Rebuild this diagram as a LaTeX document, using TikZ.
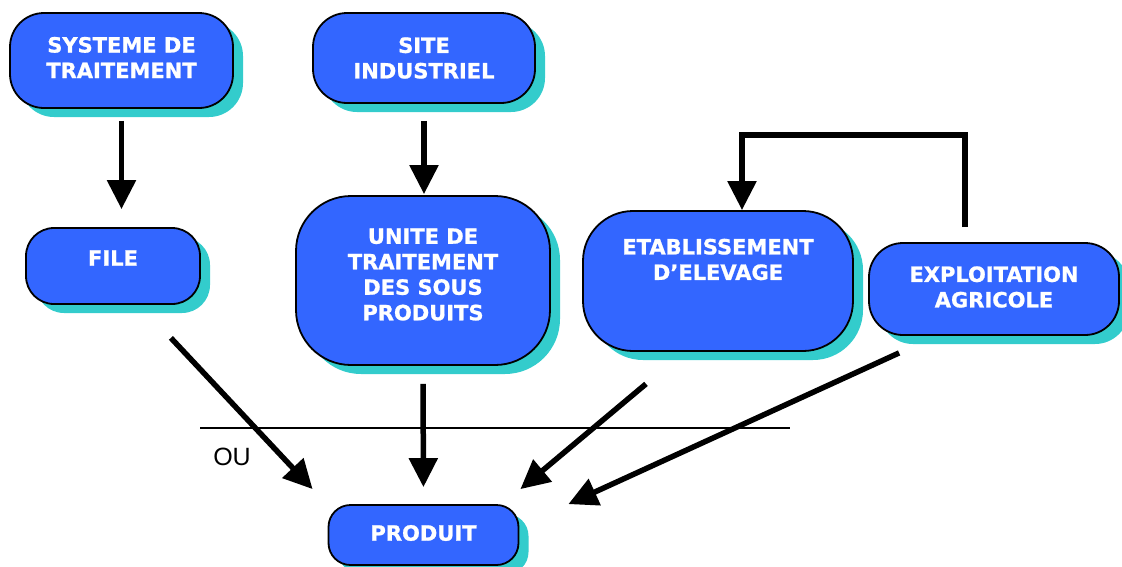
\documentclass[tikz,border=0pt]{standalone}
\usepackage{fontspec}
\setmainfont{DejaVu Sans}[BoldFeatures={FakeBold=1}]
\newfontfamily\arialfont{Liberation Sans}
\usetikzlibrary{arrows.meta,shadows}

\definecolor{bleu}{RGB}{51,102,255}
\definecolor{turquoise}{RGB}{51,204,204}

\begin{document}
\begin{tikzpicture}[x=1pt,y=-1pt,
    bloc/.style={draw=black,line width=1.8pt,fill=bleu,
      drop shadow={fill=turquoise,opacity=1,shadow xshift=10pt,shadow yshift=-9pt}},
    txt/.style={text=white,align=center,font=\bfseries\fontsize{21}{25.5}\selectfont},
    arr/.style={line width=5.5pt,-{Triangle[width=28pt,length=29pt]}}]

  \useasboundingbox (0,0) rectangle (1122,566);

  % les boites
  \begin{scope}[every node/.style={bloc}]
    \node[minimum width=223pt,minimum height=95pt,rounded corners=34pt]  (sys)     at (121.5,60.5) {};
    \node[minimum width=222pt,minimum height=90pt,rounded corners=34pt]  (site)    at (424,58)     {};
    \node[minimum width=174pt,minimum height=76pt,rounded corners=28pt]  (file)    at (113,266)    {};
    \node[minimum width=254pt,minimum height=169pt,rounded corners=55pt] (unite)   at (423,280.5)  {};
    \node[minimum width=270pt,minimum height=140pt,rounded corners=50pt] (etab)    at (718,281)    {};
    \node[minimum width=250pt,minimum height=92pt,rounded corners=34pt]  (expl)    at (994,289)    {};
    \node[minimum width=190pt,minimum height=60pt,rounded corners=22pt]  (produit) at (423.5,535)  {};
  \end{scope}

  % les textes
  \begin{scope}[every node/.style={txt}]
    \node (sys-t)     at ([yshift=3pt]sys)      {SYSTEME DE\\TRAITEMENT};
    \node (site-t)    at (site)                 {SITE\\INDUSTRIEL};
    \node (file-t)    at ([yshift=8pt]file)     {FILE};
    \node (unite-t)   at ([yshift=6pt]unite)    {UNITE DE\\TRAITEMENT\\DES SOUS\\PRODUITS};
    \node (etab-t)    at ([yshift=21.5pt]etab)  {ETABLISSEMENT\\D’ELEVAGE};
    \node (expl-t)    at ([yshift=2pt]expl)     {EXPLOITATION\\AGRICOLE};
    \node (produit-t) at ([yshift=2pt]produit)  {PRODUIT};
  \end{scope}

  % les fleches
  \draw[arr,shorten <=12pt,shorten >=18pt] (sys.south) -- (sys.south |- file.north);
  \draw[arr,shorten <=17pt,shorten >=1pt] (site.south) -- (site.south |- unite.north);

  \coordinate (coude) at (965,135);
  \draw[arr,shorten <=15pt] (expl.north -| coude) -- (coude) -| ([xshift=24pt]etab.north);

  \draw[arr] ([xshift=-30pt,yshift=-33pt]file.south east) -- ([xshift=-15pt,yshift=15pt]produit.north west);
  \draw[arr,shorten <=18pt,shorten >=17pt] (unite.south) -- (produit.north);
  \draw[arr] ([xshift=-72pt,yshift=-32pt]etab.south) -- ([xshift=1pt,yshift=15pt]produit.north east);
  \draw[arr] ([xshift=31pt,yshift=-17pt]expl.south west) -- ([xshift=49pt]produit.north east);

  % la ligne OU
  \coordinate (ou-g) at (200,428);
  \coordinate (ou-d) at (790,428);
  \draw[line width=1.5pt] (ou-g) -- (ou-d);
  \node[font=\arialfont\fontsize{25}{30}\selectfont] (ou) at (232,457) {OU};

\end{tikzpicture}
\end{document}
